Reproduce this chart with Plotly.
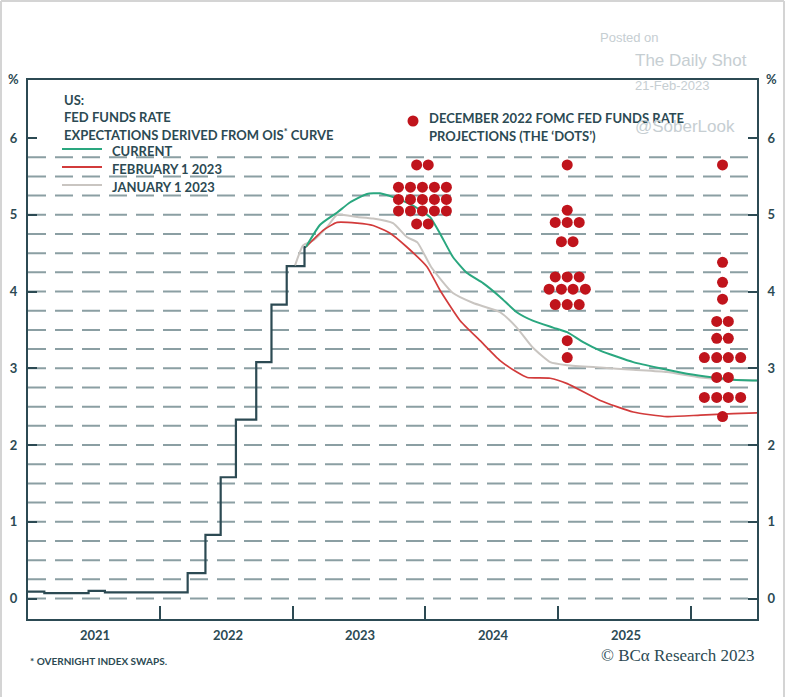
import numpy as np
import plotly.graph_objects as go

# ---------------- data ----------------
# Effective fed funds rate (step)
effr_dates = ["2021-01-01", "2021-02-15", "2021-06-17", "2021-08-01", "2022-03-17", "2022-05-05",
              "2022-06-16", "2022-07-28", "2022-09-22", "2022-11-03", "2022-12-15", "2023-02-02",
              "2023-02-06"]
effr_vals = [0.09, 0.07, 0.10, 0.08, 0.33, 0.83, 1.58, 2.33, 3.08, 3.83, 4.33, 4.58, 4.58]

# OIS-implied path: current
cur_dates = ["2023-02-06", "2023-03-17", "2023-05-03", "2023-06-07", "2023-07-24", "2023-08-29",
             "2023-10-04", "2023-11-28", "2024-01-14", "2024-02-10", "2024-03-17", "2024-04-25",
             "2024-06-08", "2024-07-25", "2024-09-09", "2024-10-23", "2024-12-18", "2025-01-26",
             "2025-03-11", "2025-04-27", "2025-07-27", "2025-10-09", "2025-12-22", "2026-03-05",
             "2026-04-29", "2026-07-03"]
cur_vals = [4.58, 4.87, 5.03, 5.16, 5.27, 5.28, 5.23, 5.12, 4.97, 4.76, 4.45, 4.24,
            4.11, 3.93, 3.73, 3.62, 3.53, 3.47, 3.34, 3.23, 3.08, 3.00, 2.93, 2.88,
            2.85, 2.84]

# OIS-implied path: February 1 2023
feb_dates = ["2023-02-06", "2023-03-26", "2023-05-03", "2023-06-27", "2023-08-10", "2023-09-26",
             "2023-11-11", "2024-01-06", "2024-02-10", "2024-04-06", "2024-05-31", "2024-07-25",
             "2024-09-09", "2024-10-08", "2024-12-10", "2025-01-26", "2025-04-27", "2025-07-27",
             "2025-10-28", "2026-01-28", "2026-04-29", "2026-07-03"]
feb_vals = [4.58, 4.80, 4.90, 4.89, 4.86, 4.76, 4.58, 4.32, 4.02, 3.62, 3.36, 3.10,
            2.95, 2.88, 2.87, 2.80, 2.58, 2.43, 2.37, 2.39, 2.41, 2.42]

# OIS-implied path: January 1 2023
jan_dates = ["2023-01-07", "2023-01-29", "2023-02-27", "2023-04-05", "2023-05-03", "2023-06-27",
             "2023-08-10", "2023-10-04", "2023-11-11", "2023-12-10", "2024-01-17", "2024-03-17",
             "2024-05-12", "2024-07-25", "2024-09-09", "2024-10-23", "2024-12-10", "2025-01-26",
             "2025-04-27", "2025-07-27", "2025-10-28", "2026-01-28", "2026-04-29", "2026-07-03"]
jan_vals = [4.34, 4.60, 4.67, 4.84, 5.00, 4.97, 4.95, 4.89, 4.71, 4.64, 4.32, 3.98,
            3.85, 3.73, 3.53, 3.27, 3.08, 3.04, 3.01, 2.98, 2.95, 2.88, 2.85, 2.84]

# December 2022 FOMC dots: column centre date, rows of (rate, number of dots)
dot_col_dates = ["2023-12-24", "2025-01-26", "2026-03-30"]
dots_2023 = [(5.65, 2), (5.36, 5), (5.20, 5), (5.05, 5), (4.88, 2)]
dots_2024 = [(5.65, 1), (5.06, 1), (4.90, 3), (4.65, 2), (4.19, 3), (4.03, 4), (3.83, 3),
             (3.36, 1), (3.14, 1)]
dots_2025 = [(5.65, 1), (4.38, 1), (4.12, 1), (3.90, 1), (3.61, 2), (3.39, 2), (3.14, 4),
             (2.88, 2), (2.62, 4), (2.37, 1)]

year_labels = ["2021", "2022", "2023", "2024", "2025"]
year_label_dates = ["2021-07-06", "2022-07-06", "2023-07-06", "2024-07-06", "2025-07-06"]
year_tick_dates = ["2022-01-01", "2023-01-01", "2024-01-01", "2025-01-01", "2026-01-01"]
y_ticks = [0, 1, 2, 3, 4, 5, 6]

# ---------------- styling ----------------
DARK = "#2c4a53"
GREEN = "#2aa77f"
RED = "#d23b3b"
GREY = "#c9c5c1"
DOTRED = "#c0141c"
GRID = "#8b9fa3"
WM = "#c6ced2"

W, H = 786, 697
L, R, T, B = 28, 29, 80, 78
PW, PH = W - L - R, H - T - B


def px(x):
    return (x - L) / PW


def py(y):
    return (H - B - y) / PH


fig = go.Figure()

fig.add_trace(go.Scatter(x=effr_dates, y=effr_vals, mode="lines", line=dict(color=DARK, width=2.2, shape="hv"),
                         showlegend=False, hoverinfo="skip"))
fig.add_trace(go.Scatter(x=jan_dates, y=jan_vals, mode="lines", line=dict(color=GREY, width=2, shape="spline", smoothing=0.5),
                         showlegend=False))
fig.add_trace(go.Scatter(x=feb_dates, y=feb_vals, mode="lines", line=dict(color=RED, width=1.7, shape="spline", smoothing=0.5),
                         showlegend=False))
fig.add_trace(go.Scatter(x=cur_dates, y=cur_vals, mode="lines", line=dict(color=GREEN, width=2, shape="spline", smoothing=0.5),
                         showlegend=False))

# dots
SPACING_DAYS = 33
for centre, rows in zip(dot_col_dates, [dots_2023, dots_2024, dots_2025]):
    c = np.datetime64(centre)
    xs, ys = [], []
    for val, n in rows:
        for i in range(n):
            off = (i - (n - 1) / 2) * SPACING_DAYS
            xs.append(str(c + np.timedelta64(int(round(off)), "D")))
            ys.append(val)
    fig.add_trace(go.Scatter(x=xs, y=ys, mode="markers", marker=dict(color=DOTRED, size=11),
                             showlegend=False))

# dummy trace for right axis
fig.add_trace(go.Scatter(x=[None], y=[None], yaxis="y2", showlegend=False))

shapes = []
for v in np.arange(0, 5.76, 0.25):
    shapes.append(dict(type="line", xref="paper", yref="y", x0=0, x1=1, y0=v, y1=v,
                       line=dict(color=GRID, width=2, dash="18px,9px"), layer="below"))

# legend samples
for yy, col in [(149, GREEN), (167, RED), (185, GREY)]:
    shapes.append(dict(type="line", xref="paper", yref="paper", x0=px(62), x1=px(102), y0=py(yy), y1=py(yy),
                       line=dict(color=col, width=2)))

# image border
for (x0, y0, x1, y1) in [(1, 1, 1, 697), (1, 1, 784, 1), (784, 1, 784, 697)]:
    shapes.append(dict(type="line", xref="paper", yref="paper", x0=px(x0), x1=px(x1), y0=py(y0), y1=py(y1),
                       line=dict(color="#d4d4d4", width=2)))

ann = []


def text(x, y, s, size=13, color=DARK, family="Lato", weight="bold", anchor="left"):
    ann.append(dict(x=px(x), y=py(y), xref="paper", yref="paper", text=s, showarrow=False,
                    xanchor=anchor, yanchor="middle",
                    font=dict(family=family, size=size, color=color, weight=weight)))


text(62, 100, "US:")
text(62, 117, "FED FUNDS RATE")
text(62, 134, "EXPECTATIONS DERIVED FROM OIS<sup>*</sup> CURVE")
text(110, 151, "CURRENT")
text(110, 169, "FEBRUARY 1 2023")
text(110, 187, "JANUARY 1 2023")
text(427, 118, "DECEMBER 2022 FOMC FED FUNDS RATE")
text(427, 136, "PROJECTIONS (THE ‘DOTS’)")
text(14, 79, "%", size=13, anchor="center")
text(771, 79, "%", size=13, anchor="center")
text(28, 661, "* OVERNIGHT INDEX SWAPS.", size=10)
text(757, 655, "© BCα Research 2023", size=17, family="Liberation Serif", weight="normal", anchor="right")

# watermark
text(598, 38, "Posted on", size=13, color=WM, family="Liberation Sans", weight="normal")
text(633, 61, "The Daily Shot", size=17, color=WM, family="Liberation Sans", weight="normal")
text(633, 86, "21-Feb-2023", size=13, color=WM, family="Liberation Sans", weight="normal")
text(633, 127, "@SoberLook", size=17, color=WM, family="Liberation Sans", weight="normal")

# year labels
for d, lab in zip(year_label_dates, year_labels):
    ann.append(dict(x=d, y=py(635), xref="x", yref="paper", text=lab, showarrow=False,
                    xanchor="center", yanchor="middle",
                    font=dict(family="Lato", size=13, color=DARK, weight="bold")))

# dot legend marker
fig.add_trace(go.Scatter(x=[px(413)], y=[py(121)], xaxis="x2", yaxis="y3", mode="markers",
                         marker=dict(color=DOTRED, size=11), showlegend=False))

yrange = [-0.267, 6.756]
tickfont = dict(family="Lato", size=13, color=DARK, weight="bold")
fig.update_layout(
    width=W, height=H, margin=dict(l=L, r=R, t=T, b=B, autoexpand=False),
    paper_bgcolor="white", plot_bgcolor="white",
    showlegend=False,
    xaxis=dict(type="date", range=["2021-01-01", "2026-07-03"], tickvals=year_tick_dates,
               ticks="inside", ticklen=13, tickwidth=2, tickcolor=DARK, showticklabels=False,
               showgrid=False, zeroline=False, showline=True, linecolor=DARK, linewidth=2, mirror=True,
               automargin=False),
    yaxis=dict(range=yrange, tickvals=y_ticks, ticks="inside", ticklen=9, tickwidth=2, tickcolor=DARK,
               tickfont=tickfont, showgrid=False, zeroline=False, showline=True, linecolor=DARK,
               linewidth=2, ticklabelstandoff=6, automargin=False),
    yaxis2=dict(range=yrange, tickvals=y_ticks, ticks="inside", ticklen=9, tickwidth=2, tickcolor=DARK,
                tickfont=tickfont, showgrid=False, zeroline=False, showline=True, linecolor=DARK,
                linewidth=2, overlaying="y", side="right", ticklabelstandoff=6, automargin=False),
    xaxis2=dict(range=[0, 1], visible=False, overlaying="x"),
    yaxis3=dict(range=[0, 1], visible=False, overlaying="y"),
    shapes=shapes, annotations=ann,
)

fig.write_html("out.html", config={"displayModeBar": False},
               post_script="document.body.style.margin='0';document.body.style.overflow='hidden';")
